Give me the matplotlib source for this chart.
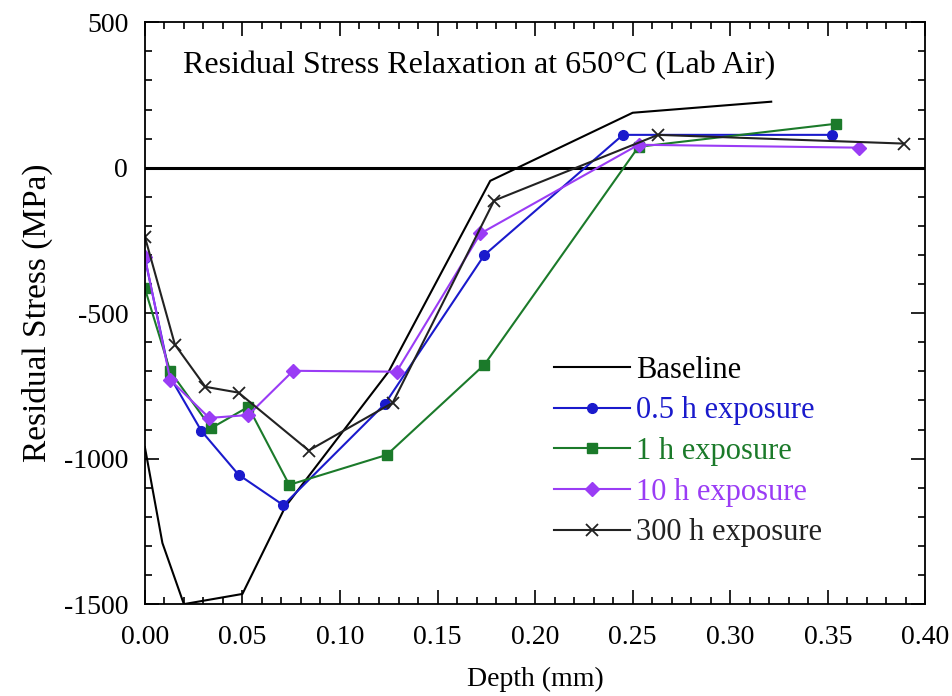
import matplotlib
matplotlib.use('Agg')
import matplotlib.pyplot as plt
from matplotlib.ticker import MultipleLocator

plt.rcParams['font.family'] = ['Liberation Serif', 'DejaVu Serif']
plt.rcParams['axes.unicode_minus'] = False

# depth (mm) vs residual stress (MPa)
base_d = [0.0, 0.009, 0.020, 0.050, 0.072, 0.125, 0.177, 0.250, 0.321]
base_s = [-960, -1290, -1500, -1465, -1165, -700, -45, 189, 227]

h05_d = [0.0, 0.013, 0.029, 0.048, 0.071, 0.123, 0.174, 0.245, 0.352]
h05_s = [-310, -720, -905, -1055, -1160, -812, -300, 113, 113]

h1_d = [0.0, 0.013, 0.034, 0.053, 0.074, 0.124, 0.174, 0.253, 0.354]
h1_s = [-415, -700, -895, -822, -1090, -987, -677, 72, 151]

h10_d = [0.0, 0.013, 0.033, 0.053, 0.076, 0.129, 0.172, 0.253, 0.366]
h10_s = [-306, -729, -860, -850, -698, -701, -226, 79, 69]

h300_d = [0.0, 0.0154, 0.031, 0.048, 0.084, 0.127, 0.179, 0.263, 0.389]
h300_s = [-237, -608, -753, -773, -972, -808, -113, 113, 83]

blue = '#1a1acc'
green = '#1b7a2a'
purple = '#9a3cf5'

fig = plt.figure(figsize=(9.53, 6.96), dpi=100)
ax = fig.add_axes([0.152, 0.132, 0.819, 0.836])

ax.axhline(0, color='black', lw=2.2, zorder=1)

ax.plot(base_d, base_s, color='black', lw=1.5, label='Baseline')
ax.plot(h05_d, h05_s, color=blue, lw=1.5, marker='o', ms=7, label='0.5 h exposure')
ax.plot(h1_d, h1_s, color=green, lw=1.5, marker='s', ms=7, label='1 h exposure')
ax.plot(h10_d, h10_s, color=purple, lw=1.5, marker='D', ms=7, label='10 h exposure')
ax.plot(h300_d, h300_s, color='#222222', lw=1.5, marker='x', ms=8, mew=1.3, label='300 h exposure')

ax.set_xlim(0, 0.40)
ax.set_ylim(-1500, 500)
ax.xaxis.set_major_locator(MultipleLocator(0.05))
ax.xaxis.set_minor_locator(MultipleLocator(0.01))
ax.yaxis.set_major_locator(MultipleLocator(500))
ax.yaxis.set_minor_locator(MultipleLocator(100))
ax.xaxis.set_major_formatter(plt.FormatStrFormatter('%.2f'))
ax.tick_params(which='both', direction='in', top=True, right=True, labelsize=20, width=1.2)
ax.tick_params(which='major', length=10)
ax.tick_params(axis='x', which='major', pad=15)
ax.tick_params(axis='y', which='major', pad=12)
ax.tick_params(which='minor', length=5)
for sp in ax.spines.values():
    sp.set_linewidth(1.3)

ax.set_xlabel('Depth (mm)', fontsize=20, labelpad=12)
ax.set_ylabel('Residual Stress (MPa)', fontsize=24, labelpad=8)

ax.text(0.0195, 350, 'Residual Stress Relaxation at 650\u00b0C (Lab Air)', fontsize=23,
        va='center', ha='left')

leg = ax.legend(loc='lower right', bbox_to_anchor=(0.895, 0.061), frameon=False, fontsize=22,
                handlelength=2.5, handletextpad=0.2, labelspacing=0.38, borderaxespad=0.3)
for txt, ln in zip(leg.get_texts(), leg.get_lines()):
    txt.set_color(ln.get_color())

fig.savefig('out.png', dpi=100)
